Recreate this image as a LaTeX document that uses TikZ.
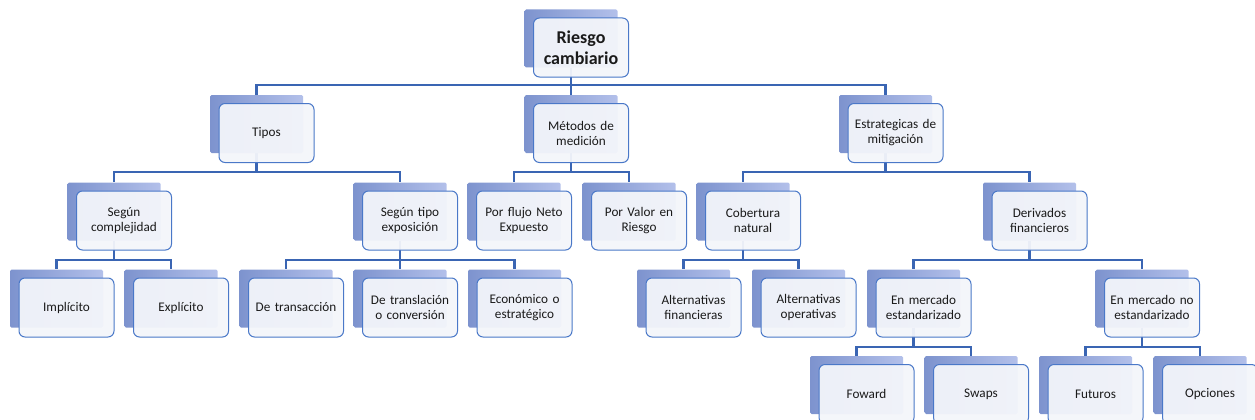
\documentclass[tikz,border=0pt]{standalone}
\usepackage{fontspec}
\setmainfont{Carlito}
\usepackage{tikz}
\usetikzlibrary{backgrounds}

\definecolor{bkdark}{HTML}{7D93CE}
\definecolor{bklight}{HTML}{B3C0EA}
\definecolor{edgeblue}{HTML}{4A78C8}
\definecolor{linkblue}{HTML}{3A65B3}
\definecolor{paper}{HTML}{F3F5FA}
\definecolor{ink}{HTML}{1A1A1A}

\tikzset{
	backbox/.style={rectangle, rounded corners=1.5pt, left color=bkdark, right color=bklight,
		minimum width=93pt, minimum height=58pt, inner sep=0pt},
	frontbox/.style={rectangle, rounded corners=6pt, draw=edgeblue, line width=1pt,
		fill=paper, fill opacity=0.95, text opacity=1, text=ink, minimum width=95pt, minimum height=59pt,
		inner sep=0pt, text width=93pt, align=center, font=\fontsize{13.2}{15}\selectfont},
	rootbox/.style={frontbox, font=\fontsize{18}{21}\selectfont\bfseries},
	conn/.style={draw=linkblue, line width=2.4pt}
}

\begin{document}
\begin{tikzpicture}[x=1pt, y=-1pt]
			\useasboundingbox (0,0) rectangle (1255,420);
			\clip (0,0) rectangle (1255,420);
			% level 0
			\node[backbox] (root-b) at (571,38.5) {};
			\node[rootbox] (root) at (581,47.5) {Riesgo\\cambiario};
			% level 1
			\node[backbox] (tipos-b) at (256.5,124) {};
			\node[frontbox] (tipos) at (266.5,133) {Tipos};
			\node[backbox] (metodos-b) at (571,124) {};
			\node[frontbox] (metodos) at (581,133) {Métodos de\\medición};
			\node[backbox] (estrat-b) at (885.5,124) {};
			\node[frontbox] (estrat) at (895.5,133) {Estrategicas de\\mitigación};
			% level 2
			\node[backbox] (compl-b) at (114,211.5) {};
			\node[frontbox] (compl) at (124,220.5) {Según\\complejidad};
			\node[backbox] (tipoexp-b) at (400,211.5) {};
			\node[frontbox] (tipoexp) at (410,220.5) {Según tipo\\exposición};
			\node[backbox] (flujo-b) at (514,211.5) {};
			\node[frontbox] (flujo) at (524,220.5) {Por flujo Neto\\Expuesto};
			\node[backbox] (valor-b) at (629,211.5) {};
			\node[frontbox] (valor) at (639,220.5) {Por Valor en\\Riesgo};
			\node[backbox] (cobert-b) at (743,211.5) {};
			\node[frontbox] (cobert) at (753,220.5) {Cobertura\\natural};
			\node[backbox] (deriv-b) at (1029.5,211.5) {};
			\node[frontbox] (deriv) at (1039.5,220.5) {Derivados\\financieros};
			% level 3
			\node[backbox] (impl-b) at (56.5,298.5) {};
			\node[frontbox] (impl) at (66.5,307.5) {Implícito};
			\node[backbox] (expl-b) at (171,298.5) {};
			\node[frontbox] (expl) at (181,307.5) {Explícito};
			\node[backbox] (transac-b) at (286,298.5) {};
			\node[frontbox] (transac) at (296,307.5) {De transacción};
			\node[backbox] (translac-b) at (400,298.5) {};
			\node[frontbox] (translac) at (410,307.5) {De translación\\o conversión};
			\node[backbox] (econ-b) at (514.5,298.5) {};
			\node[frontbox] (econ) at (524.5,307.5) {Económico o\\estratégico};
			\node[backbox] (altfin-b) at (683.5,298.5) {};
			\node[frontbox] (altfin) at (693.5,307.5) {Alternativas\\financieras};
			\node[backbox] (altop-b) at (798.5,298.5) {};
			\node[frontbox] (altop) at (808.5,307.5) {Alternativas\\operativas};
			\node[backbox] (estand-b) at (913.5,298.5) {};
			\node[frontbox] (estand) at (923.5,307.5) {En mercado\\estandarizado};
			\node[backbox] (noestand-b) at (1142,298.5) {};
			\node[frontbox] (noestand) at (1152,307.5) {En mercado no\\estandarizado};
			% level 4
			\node[backbox] (foward-b) at (856.5,385) {};
			\node[frontbox] (foward) at (866.5,394) {Foward};
			\node[backbox] (swaps-b) at (971,385) {};
			\node[frontbox] (swaps) at (981,394) {Swaps};
			\node[backbox] (futuros-b) at (1085.5,385) {};
			\node[frontbox] (futuros) at (1095.5,394) {Futuros};
			\node[backbox] (opciones-b) at (1200,385) {};
			\node[frontbox] (opciones) at (1210,394) {Opciones};
			% connectors
			\begin{scope}[on background layer]
				\draw[conn] (root-b.south) -- ++(0,17) -| (tipos-b.north);
				\draw[conn] (root-b.south) -- ++(0,17) -| (metodos-b.north);
				\draw[conn] (root-b.south) -- ++(0,17) -| (estrat-b.north);
				\draw[conn] (tipos-b.south) -- ++(0,19) -| (compl-b.north);
				\draw[conn] (tipos-b.south) -- ++(0,19) -| (tipoexp-b.north);
				\draw[conn] (metodos-b.south) -- ++(0,19) -| (flujo-b.north);
				\draw[conn] (metodos-b.south) -- ++(0,19) -| (valor-b.north);
				\draw[conn] (estrat-b.south) -- ++(0,19) -| (cobert-b.north);
				\draw[conn] (estrat-b.south) -- ++(0,19) -| (deriv-b.north);
				\draw[conn] (compl-b.south) -- ++(0,19) -| (impl-b.north);
				\draw[conn] (compl-b.south) -- ++(0,19) -| (expl-b.north);
				\draw[conn] (tipoexp-b.south) -- ++(0,19) -| (transac-b.north);
				\draw[conn] (tipoexp-b.south) -- ++(0,19) -| (translac-b.north);
				\draw[conn] (tipoexp-b.south) -- ++(0,19) -| (econ-b.north);
				\draw[conn] (cobert-b.south) -- ++(0,19) -| (altfin-b.north);
				\draw[conn] (cobert-b.south) -- ++(0,19) -| (altop-b.north);
				\draw[conn] (deriv-b.south) -- ++(0,19) -| (estand-b.north);
				\draw[conn] (deriv-b.south) -- ++(0,19) -| (noestand-b.north);
				\draw[conn] (estand-b.south) -- ++(0,19) -| (foward-b.north);
				\draw[conn] (estand-b.south) -- ++(0,19) -| (swaps-b.north);
				\draw[conn] (noestand-b.south) -- ++(0,19) -| (futuros-b.north);
				\draw[conn] (noestand-b.south) -- ++(0,19) -| (opciones-b.north);
			\end{scope}
		\end{tikzpicture}
\end{document}
